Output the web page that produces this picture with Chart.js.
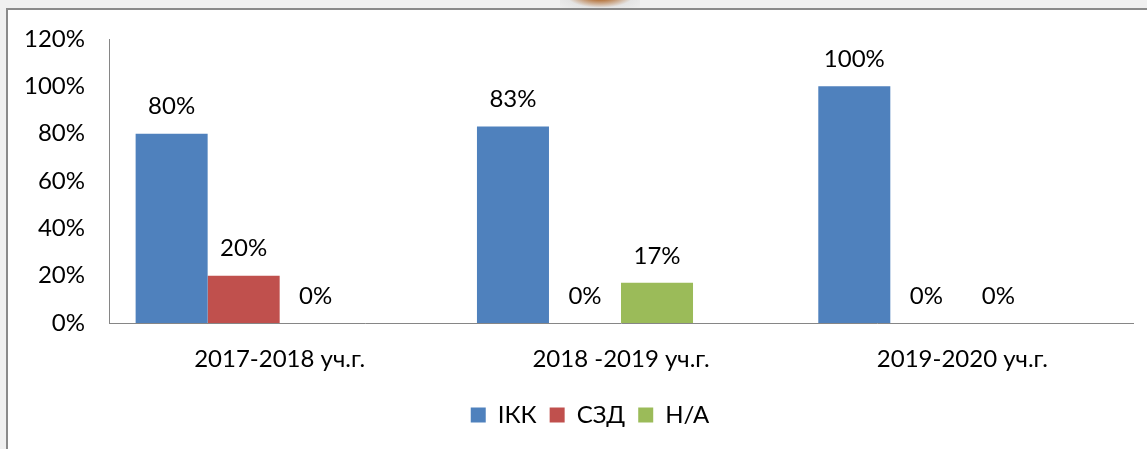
<!DOCTYPE html>
<html>
<head>
<meta charset="utf-8">
<script src="https://cdn.jsdelivr.net/npm/chart.js@4/dist/chart.umd.min.js"></script>
<style>
  html, body { margin: 0; padding: 0; }
  body { width: 1147px; height: 449px; overflow: hidden; background: #f0f0f0; position: relative; }
  .blob { position: absolute; left: 560px; top: -20px; width: 80px; height: 30px;
          background: radial-gradient(ellipse at center, #a5561a 0%, #b87a45 25%, rgba(220,220,220,0.6) 60%, rgba(240,240,240,0) 100%); }
  .frame { position: absolute; left: 6px; top: 8px; width: 1200px; height: 500px;
           background: #fff; border-top: 2px solid #8a8a8a; border-left: 2px solid #8a8a8a; }
  #wrap { position: absolute; left: 9px; top: 10px; width: 1162px; height: 439px; }
</style>
</head>
<body>
<div class="blob"></div>
<div class="frame"></div>
<div id="wrap"><canvas id="chart"></canvas></div>
<script>
// data
const categories = ['2017-2018 уч.г.', '2018 -2019 уч.г.', '2019-2020 уч.г.'];
const ikk = [80, 83, 100];
const szd = [20, 0, 0];
const na = [0, 17, 0];
const yTicks = [0, 20, 40, 60, 80, 100, 120];

const fontFamily = 'Lato, "Open Sans", sans-serif';
const fontSize = 24;

// value labels above bars
const valueLabels = {
    id: 'valueLabels',
    afterLayout(chart) {
        // legend is centred on the whole frame, not on the padded area
        chart.legend.left += 19;
        chart.legend.right += 19;
    },
    afterDatasetsDraw(chart) {
        const ctx = chart.ctx;
        ctx.save();
        ctx.font = fontSize + 'px ' + fontFamily;
        ctx.fillStyle = '#000';
        ctx.textAlign = 'center';
        ctx.textBaseline = 'middle';
        for (let d = 0; d < 3; d++) {
            const meta = chart.getDatasetMeta(d);
            meta.data.forEach((bar, i) => {
                const v = chart.data.datasets[d].data[i];
                ctx.fillText(v + '%', bar.x, bar.y - 27);
            });
        }
        ctx.restore();
    }
};

const ctx = document.getElementById('chart').getContext('2d');
const chart = new Chart(ctx, {
    type: 'bar',
    data: {
        labels: categories,
        datasets: [
            { label: 'ІКК', data: ikk, backgroundColor: '#4f81bd' },
            { label: 'СЗД', data: szd, backgroundColor: '#c0504d' },
            { label: 'Н/А', data: na, backgroundColor: '#9bbb59' },
            { label: '', data: [null, null, null], backgroundColor: 'rgba(0,0,0,0)' }
        ]
    },
    options: {
        responsive: true,
        maintainAspectRatio: false,
        animation: false,
        datasets: {
            bar: { categoryPercentage: 0.844, barPercentage: 1 }
        },
        layout: { padding: { top: 29, right: 38, bottom: 12, left: 0 } },
        plugins: {
            legend: {
                position: 'bottom',
                labels: {
                    boxWidth: 15,
                    boxHeight: 15,
                    padding: 13,
                    color: '#000',
                    font: { family: fontFamily, size: fontSize },
                    filter: item => item.datasetIndex < 3
                }
            },
            tooltip: { enabled: false }
        },
        scales: {
            x: {
                grid: { display: false, drawTicks: false },
                border: { display: true, color: '#868686', width: 1 },
                ticks: { color: '#000', padding: 22, font: { family: fontFamily, size: fontSize }, maxRotation: 0 },
                afterFit(scale) {
                    scale.height = 67;
                    scale.paddingLeft = 0;
                    scale.paddingRight = 0;
                }
            },
            y: {
                min: 0,
                max: 120,
                grid: { display: false, drawTicks: false },
                border: { display: true, color: '#868686', width: 1 },
                afterBuildTicks(scale) { scale.ticks = yTicks.map(v => ({ value: v })); },
                ticks: {
                    color: '#000',
                    padding: 24,
                    font: { family: fontFamily, size: fontSize },
                    callback: v => v + '%'
                },
                afterFit(scale) {
                    scale.width = 100;
                    scale.paddingTop = 0;
                    scale.paddingBottom = 0;
                }
            }
        }
    },
    plugins: [valueLabels]
});
</script>
</body>
</html>
